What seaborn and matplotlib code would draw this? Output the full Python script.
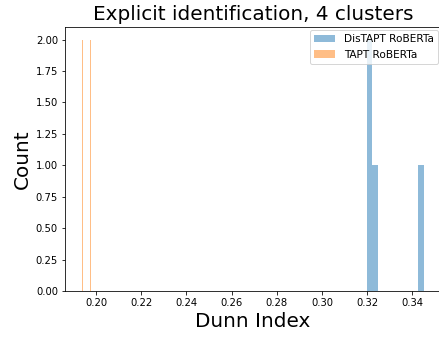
import numpy as np
import pandas as pd
import matplotlib
matplotlib.use('Agg')
import matplotlib.pyplot as plt
import seaborn as sns

# Dunn index per run
distapt_roberta = [0.3197, 0.3205, 0.3230, 0.3451]
tapt_roberta = [0.1938, 0.1938, 0.1978, 0.1978]
labels = ['DisTAPT RoBERTa', 'TAPT RoBERTa']

fig = plt.figure(figsize=(439 / 72, 338 / 72), dpi=72)
ax = fig.add_axes([65 / 439, 47 / 338, 376 / 439, 264 / 338])

sns.histplot(x=distapt_roberta, bins=10, color='tab:blue', alpha=0.5,
             linewidth=0, label=labels[0], ax=ax)
sns.histplot(x=tapt_roberta, bins=10, color='tab:orange', alpha=0.5,
             linewidth=0, label=labels[1], ax=ax)

ax.margins(x=0.05, y=0.05)
ax.set_ylim(0, 2.1)
ax.set_yticks(np.arange(0, 2.01, 0.25))
ax.yaxis.set_major_formatter(matplotlib.ticker.FormatStrFormatter('%.2f'))
ax.set_xticks(np.arange(0.20, 0.341, 0.02))
ax.xaxis.set_major_formatter(matplotlib.ticker.FormatStrFormatter('%.2f'))
ax.tick_params(labelsize=10)

ax.set_title('Explicit identification, 4 clusters', fontsize=20, pad=7)
ax.set_xlabel('Dunn Index', fontsize=20)
ax.set_ylabel('Count', fontsize=20)
ax.legend(loc='upper right', fontsize=10.5, borderaxespad=0.3)

fig.savefig('out.png', dpi=72)
